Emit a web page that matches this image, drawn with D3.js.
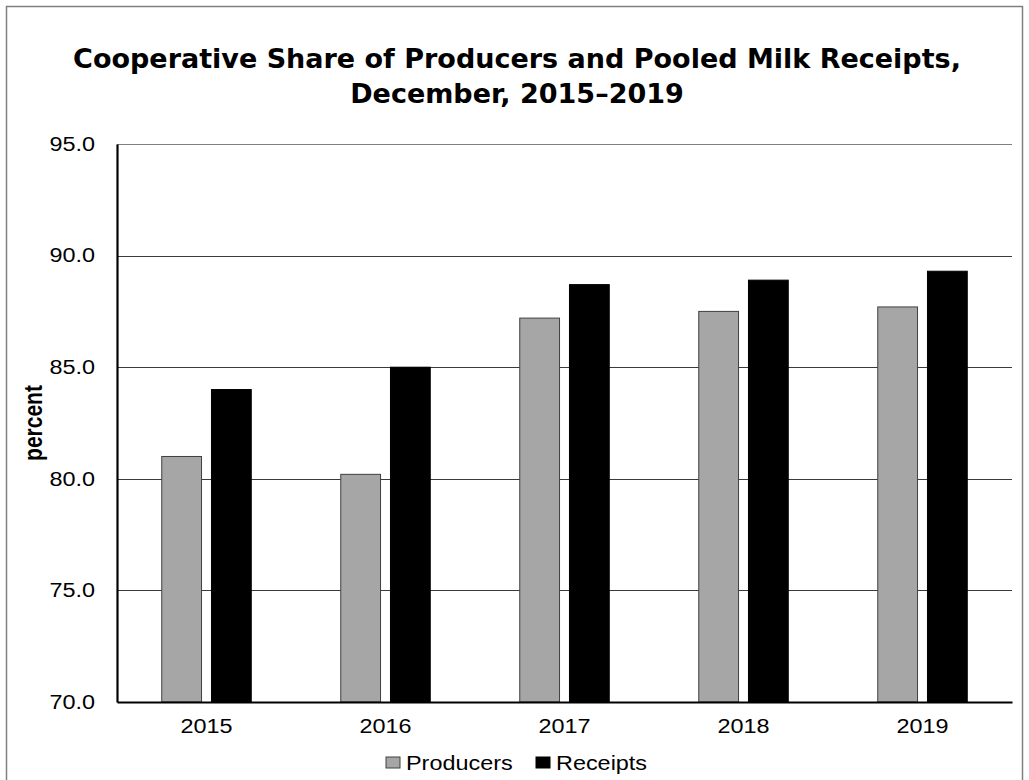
<!DOCTYPE html>
<html>
<head>
<meta charset="utf-8">
<script src="https://cdn.jsdelivr.net/npm/d3@7"></script>
<style>
    body { margin: 0; background: #fff; }
</style>
</head>
<body>
<svg id="chart" width="1029" height="780"></svg>
<script>
// Chart data
var years = ["2015", "2016", "2017", "2018", "2019"];
var producers = [81.0, 80.2, 87.2, 87.5, 87.7];
var receipts = [84.0, 85.0, 88.7, 88.9, 89.3];
var seriesNames = ["Producers", "Receipts"];
var yTicks = [70, 75, 80, 85, 90, 95];

var seriesColors = ["#a6a6a6", "#000000"];

// the original picture is a bit wide, so plain text gets stretched sideways
var stretch = 1.2;

function widen(sel) {
    sel.each(function() {
        var w = this.getComputedTextLength();
        d3.select(this)
            .attr("textLength", w * stretch)
            .attr("lengthAdjust", "spacingAndGlyphs");
    });
}

var svg = d3.select("#chart");

// Outer frame
svg.append("rect")
    .attr("x", 6.5)
    .attr("y", 6.5)
    .attr("width", 1016)
    .attr("height", 790)
    .attr("fill", "none")
    .attr("stroke", "#808080")
    .attr("stroke-width", 1.5);

var margin = { left: 117, right: 1012, top: 144, bottom: 702 };

var x = d3.scaleBand()
    .domain(years)
    .range([margin.left, margin.right]);

var inner = d3.scaleBand()
    .domain(seriesNames)
    .range([x.bandwidth() * 0.25, x.bandwidth() * 0.75])
    .paddingInner(0.2);

var y = d3.scaleLinear()
    .domain([70, 95])
    .range([margin.bottom, margin.top]);

// Gridlines
svg.append("g")
    .selectAll("line")
    .data(yTicks.slice(1))
    .enter()
    .append("line")
    .attr("x1", margin.left)
    .attr("x2", margin.right)
    .attr("y1", function(d) { return Math.round(y(d)) + 0.5; })
    .attr("y2", function(d) { return Math.round(y(d)) + 0.5; })
    .attr("stroke", function(d) { return d === 95 ? "#7f7f7f" : "#3a3a3a"; })
    .attr("stroke-width", 1.2);

// Bars
var rows = years.map(function(yr, i) {
    return { year: yr, values: [producers[i], receipts[i]] };
});

var groups = svg.append("g")
    .selectAll("g")
    .data(rows)
    .enter()
    .append("g")
    .attr("transform", function(d) { return "translate(" + x(d.year) + ",0)"; });

groups.selectAll("rect")
    .data(function(d) {
        return d.values.map(function(v, i) { return { name: seriesNames[i], value: v, idx: i }; });
    })
    .enter()
    .append("rect")
    .attr("x", function(d) { return inner(d.name); })
    .attr("width", inner.bandwidth())
    .attr("y", function(d) { return y(d.value); })
    .attr("height", function(d) { return y(70) - y(d.value); })
    .attr("fill", function(d) { return seriesColors[d.idx]; })
    .attr("stroke", function(d) { return d.idx === 0 ? "#404040" : "#000"; })
    .attr("stroke-width", 1);

// Y axis
var yAxis = svg.append("g")
    .attr("transform", "translate(" + margin.left + ",0)")
    .call(d3.axisLeft(y).tickValues(yTicks).tickSize(0).tickPadding(22)
        .tickFormat(d3.format(".1f")));
yAxis.select(".domain").attr("stroke", "#000").attr("stroke-width", 2.2);
yAxis.selectAll("text")
    .attr("font-family", "Liberation Sans, Arial, sans-serif")
    .attr("font-size", 19.5)
    .attr("fill", "#000")
    .call(widen);

// X axis
var xAxis = svg.append("g")
    .attr("transform", "translate(0," + margin.bottom + ")")
    .call(d3.axisBottom(x).tickSize(0).tickPadding(17));
xAxis.select(".domain").attr("stroke", "#000").attr("stroke-width", 1.8);
xAxis.selectAll("text")
    .attr("font-family", "Liberation Sans, Arial, sans-serif")
    .attr("font-size", 19.5)
    .attr("fill", "#000")
    .call(widen);

// Y axis title (stretched across its height, since it is turned)
svg.append("text")
    .attr("transform", "translate(42,423) rotate(-90) scale(1," + stretch + ")")
    .attr("text-anchor", "middle")
    .attr("font-family", "Liberation Sans, Arial, sans-serif")
    .attr("font-weight", "bold")
    .attr("font-size", 21)
    .text("percent");

// Title
var title = svg.append("text")
    .attr("text-anchor", "middle")
    .attr("font-family", "DejaVu Sans, Verdana, sans-serif")
    .attr("font-weight", "bold")
    .attr("font-size", 27);
title.append("tspan").attr("x", 517).attr("y", 68)
    .text("Cooperative Share of Producers and Pooled Milk Receipts,");
title.append("tspan").attr("x", 517).attr("y", 103)
    .text("December, 2015\u20132019");

// Legend
var legendX = [386, 536];
var legend = svg.append("g")
    .selectAll("g")
    .data(seriesNames)
    .enter()
    .append("g")
    .attr("transform", function(d, i) { return "translate(" + legendX[i] + ",757)"; });

legend.append("rect")
    .attr("width", 14)
    .attr("height", 11)
    .attr("fill", function(d, i) { return seriesColors[i]; })
    .attr("stroke", function(d, i) { return i === 0 ? "#404040" : "#000"; });

legend.append("text")
    .attr("x", 20)
    .attr("y", 12.5)
    .attr("font-family", "Liberation Sans, Arial, sans-serif")
    .attr("font-size", 19.5)
    .text(function(d) { return d; })
    .call(widen);
</script>
</body>
</html>
